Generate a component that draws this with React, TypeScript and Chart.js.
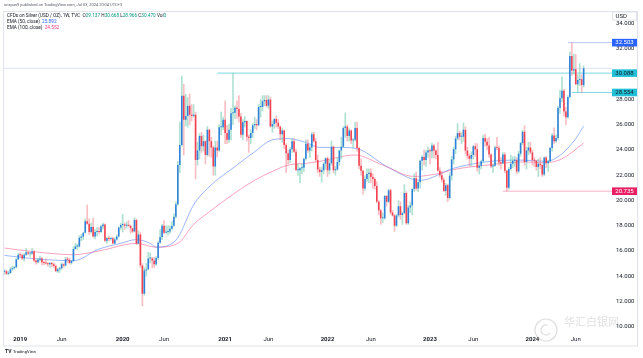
import { useEffect, useRef } from "react";
import { Chart, registerables } from "chart.js";
Chart.register(...registerables);

// Weekly candles, index 0 = week of 12 Nov 2018, last = week of 1 Jul 2024
const opens = [
  14.35,14.40,14.20,14.26,14.56,14.63,14.70,15.35,
  15.69,15.65,15.40,15.70,15.90,15.80,15.80,15.95,15.25,15.10,15.30,15.40,15.10,15.05,15.00,14.95,15.05,14.95,14.80,14.40,14.55,14.60,14.95,14.85,15.35,15.30,15.05,15.20,16.15,16.35,16.35,17.05,17.15,17.45,18.35,18.15,17.50,17.90,17.15,17.50,17.55,17.50,17.95,18.10,16.80,17.00,16.95,17.00,16.60,16.90,17.15,17.85,
  18.05,18.10,18.00,18.05,18.00,17.80,17.55,18.45,16.60,17.30,14.85,12.60,14.45,14.55,15.40,15.40,15.25,14.95,15.45,16.65,17.10,18.00,17.45,17.50,17.55,17.75,18.00,18.70,19.70,22.80,24.40,28.30,26.40,26.70,27.50,26.80,26.70,26.80,23.20,23.95,25.10,24.30,24.70,23.60,25.60,24.70,24.20,22.70,24.20,23.95,25.80,25.80,
  26.40,25.35,24.80,25.60,26.90,26.95,27.35,27.25,26.65,25.20,26.20,26.30,25.05,24.95,25.35,25.95,26.05,25.95,27.40,27.40,27.85,27.95,27.50,28.00,25.85,26.05,26.45,26.15,25.85,25.25,25.55,24.40,23.75,23.20,24.05,24.70,23.85,22.40,22.40,22.55,22.60,23.30,24.50,23.95,24.20,25.25,24.70,23.20,22.45,22.25,22.40,22.90,
  23.35,22.40,22.95,24.25,22.40,22.45,23.05,23.95,24.25,25.75,25.85,25.10,25.55,24.75,24.80,25.75,24.15,22.75,22.35,20.95,21.70,22.10,22.20,21.85,21.70,21.15,19.90,19.20,18.60,18.60,20.35,19.90,20.80,19.05,18.80,18.00,18.80,19.55,18.85,19.00,20.60,18.20,19.45,19.60,20.90,21.75,20.95,21.45,23.15,23.45,23.20,23.80,
  23.95,23.90,24.35,23.95,23.60,22.35,22.00,21.65,20.75,21.20,20.20,21.95,23.25,24.05,24.90,25.35,25.05,25.05,25.60,23.95,23.55,23.30,23.60,24.30,24.05,22.60,22.75,23.10,24.95,24.65,24.35,23.65,22.70,22.75,24.20,24.15,23.00,22.95,23.65,22.35,21.00,22.50,22.90,23.15,23.20,22.30,23.70,24.55,25.45,23.05,23.95,24.20,
  23.80,23.20,23.15,22.65,22.90,22.80,22.05,23.40,22.95,23.10,24.15,25.15,24.70,24.95,27.35,28.10,28.70,27.05,26.60,28.20,31.45,30.30,30.40,29.20,29.55,29.60,29.137,
];
const highs = [
  14.52,14.48,14.38,14.70,14.80,14.80,15.40,15.80,
  15.85,15.75,15.80,16.20,15.95,15.85,16.20,16.05,15.30,15.40,15.60,15.50,15.20,15.35,15.05,15.10,15.10,15.05,14.90,14.65,14.70,15.05,15.00,15.50,15.50,15.40,15.25,16.35,16.60,16.55,17.20,17.30,17.45,18.55,19.65,18.55,18.20,18.60,17.70,17.85,17.85,18.05,18.20,18.15,17.10,17.20,17.10,17.10,17.05,17.25,17.90,18.20,
  18.90,18.20,18.30,18.40,18.05,17.80,18.65,18.55,17.60,17.45,15.00,14.70,15.00,15.90,15.85,15.50,15.50,15.55,16.75,17.70,18.10,18.40,18.00,18.00,18.00,18.35,18.95,19.90,23.10,26.20,29.86,29.20,28.40,28.15,28.45,27.60,27.60,27.00,24.60,25.30,25.40,25.20,24.75,25.85,25.65,25.00,24.30,24.70,24.70,26.00,27.00,26.60,
  27.90,25.95,26.05,27.30,30.088,27.50,27.90,28.30,26.90,26.40,26.65,26.30,25.20,25.60,26.10,26.60,26.40,27.60,28.00,28.30,28.30,28.30,28.30,28.20,26.30,26.50,26.70,26.40,25.90,25.70,25.60,24.50,24.00,24.20,24.90,24.90,24.05,22.90,22.60,22.90,23.35,24.80,24.80,24.40,25.40,25.40,24.90,23.60,22.65,22.60,23.00,23.40,
  23.45,23.20,24.70,24.30,22.70,23.40,24.00,25.00,25.85,26.95,26.00,25.70,25.60,24.90,26.20,26.20,24.20,23.30,22.40,21.95,22.50,22.50,22.50,22.10,21.80,21.50,20.00,19.30,19.00,20.40,20.40,20.90,20.90,19.20,18.90,18.90,20.00,19.90,19.10,21.25,20.70,19.60,19.90,20.95,22.10,22.25,21.50,23.20,23.55,24.00,24.00,24.25,
  24.10,24.55,24.45,24.00,24.60,22.60,22.30,21.80,21.35,21.30,22.20,23.50,24.20,25.10,26.10,25.50,25.35,26.15,25.85,24.20,23.70,23.85,24.35,24.50,24.50,22.90,23.20,25.15,25.25,24.90,25.00,23.70,22.90,24.30,25.00,24.30,23.40,23.80,23.80,22.40,22.60,23.60,23.45,23.50,23.40,23.90,24.60,25.55,25.92,24.20,24.60,24.60,
  24.00,23.40,23.20,23.30,23.40,22.90,23.45,23.50,23.20,24.20,25.30,25.75,25.20,27.45,28.75,29.80,28.80,27.40,28.30,31.75,32.503,31.60,31.55,29.95,30.85,29.95,30.668,
];
const lows = [
  14.15,14.12,14.08,14.20,14.45,14.55,14.65,15.30,
  15.55,15.30,15.20,15.65,15.70,15.55,15.70,15.15,14.95,15.05,15.20,14.90,14.90,14.95,14.80,14.70,14.75,14.70,14.35,14.30,14.30,14.55,14.70,14.80,15.10,14.95,14.95,15.15,16.15,16.15,16.30,16.80,16.90,17.40,18.10,17.30,17.40,17.10,16.95,17.20,17.35,17.45,17.75,16.75,16.60,16.80,16.85,16.60,16.55,16.85,17.10,17.70,
  17.50,17.70,17.80,17.95,17.40,17.45,17.50,16.50,16.55,14.70,11.64,12.50,14.00,14.50,15.05,14.65,14.70,14.85,15.30,16.60,16.90,17.35,17.40,17.25,17.40,17.70,17.95,18.60,19.60,22.20,24.30,23.60,25.90,25.80,26.00,26.30,26.60,21.70,22.80,23.30,23.80,23.90,22.90,23.50,23.50,23.40,22.00,22.00,23.45,23.90,25.20,25.60,
  24.50,24.50,24.60,24.80,26.00,26.50,26.50,26.20,25.00,24.80,25.80,24.70,23.80,24.50,25.00,25.70,25.60,25.90,26.60,27.10,27.50,27.40,27.30,25.80,25.40,25.70,25.80,25.70,24.80,24.60,24.10,22.20,22.90,23.00,23.80,23.80,22.40,22.00,21.40,22.10,22.30,23.20,23.80,23.40,23.90,24.60,23.10,22.20,21.90,21.45,22.10,22.50,
  21.90,22.10,22.80,22.20,22.00,22.40,22.80,23.30,24.20,25.00,24.70,24.70,24.50,24.15,24.70,23.90,22.50,22.00,20.50,20.80,21.50,21.40,21.40,20.95,20.90,19.80,18.85,18.10,18.25,18.50,19.55,19.80,18.90,18.75,17.55,17.90,18.70,18.50,18.10,18.95,18.10,18.10,19.05,18.85,20.70,20.80,20.70,21.00,22.40,22.80,22.70,23.40,
  22.90,23.35,23.40,23.30,22.30,21.85,21.45,20.70,20.40,19.90,20.10,21.60,22.90,23.70,24.80,24.80,24.50,24.70,23.70,23.30,22.70,22.70,23.30,23.50,22.30,22.10,22.50,23.00,24.30,24.00,23.40,22.60,22.20,22.70,24.00,22.80,22.50,22.90,22.20,20.735,20.90,22.40,22.60,22.70,22.10,22.20,23.50,24.40,22.80,22.50,23.60,23.70,
  22.80,22.70,22.40,21.90,22.50,21.90,21.95,22.60,22.30,23.05,23.90,24.50,24.60,24.80,26.90,27.80,26.70,26.00,26.50,28.10,29.90,30.00,29.15,28.60,29.10,28.554,28.966,
];
const closes = [
  14.40,14.20,14.26,14.56,14.63,14.70,15.35,15.69,
  15.65,15.40,15.70,15.90,15.80,15.80,15.95,15.25,15.10,15.30,15.40,15.10,15.05,15.00,14.95,15.05,14.95,14.80,14.40,14.55,14.60,14.95,14.85,15.35,15.30,15.05,15.20,16.15,16.35,16.35,17.05,17.15,17.45,18.35,18.15,17.50,17.90,17.15,17.50,17.55,17.50,17.95,18.10,16.80,17.00,16.95,17.00,16.60,16.90,17.15,17.85,18.05,
  18.10,18.00,18.05,18.00,17.80,17.55,18.45,16.60,17.30,14.85,12.60,14.45,14.55,15.40,15.40,15.25,14.95,15.45,16.65,17.10,18.00,17.45,17.50,17.55,17.75,18.00,18.70,19.70,22.80,24.40,28.30,26.40,26.70,27.50,26.80,26.70,26.80,23.20,23.95,25.10,24.30,24.70,23.60,25.60,24.70,24.20,22.70,24.20,23.95,25.80,25.80,26.40,
  25.35,24.80,25.60,26.90,26.95,27.35,27.25,26.65,25.20,26.20,26.30,25.05,24.95,25.35,25.95,26.05,25.95,27.40,27.40,27.85,27.95,27.50,28.00,25.85,26.05,26.45,26.15,25.85,25.25,25.55,24.40,23.75,23.20,24.05,24.70,23.85,22.40,22.40,22.55,22.60,23.30,24.50,23.95,24.20,25.25,24.70,23.20,22.45,22.25,22.40,22.90,23.35,
  22.40,22.95,24.25,22.40,22.45,23.05,23.95,24.25,25.75,25.85,25.10,25.55,24.75,24.80,25.75,24.15,22.75,22.35,20.95,21.70,22.10,22.20,21.85,21.70,21.15,19.90,19.20,18.60,18.60,20.35,19.90,20.80,19.05,18.80,18.00,18.80,19.55,18.85,19.00,20.60,18.20,19.45,19.60,20.90,21.75,20.95,21.45,23.15,23.45,23.20,23.80,23.95,
  23.90,24.35,23.95,23.60,22.35,22.00,21.65,20.75,21.20,20.20,21.95,23.25,24.05,24.90,25.35,25.05,25.05,25.60,23.95,23.55,23.30,23.60,24.30,24.05,22.60,22.75,23.10,24.95,24.65,24.35,23.65,22.70,22.75,24.20,24.15,23.00,22.95,23.65,22.35,21.00,22.50,22.90,23.15,23.20,22.30,23.70,24.55,25.45,23.05,23.95,24.20,23.80,
  23.20,23.15,22.65,22.90,22.80,22.05,23.40,22.95,23.10,24.15,25.15,24.70,24.95,27.35,28.10,28.70,27.05,26.60,28.20,31.45,30.30,30.40,29.20,29.55,29.60,29.14,30.47,
];

// EMA readings (week index, value)
const ema50Idx = [0,14,28,35,48,59,67,74,77,84,88,96,104,118,127,136,144,153,160,170,179,194,211,228,245,262,275,283,290,294];
const ema50Val = [15.65,15.40,15.25,15.23,16.15,16.6,16.9,16.6,16.3,16.5,17.05,19.65,21.1,22.8,23.86,24.8,24.9,24.6,24.2,24.2,24.1,22.7,21.6,22.55,23.07,23.2,23.1,23.7,24.9,25.89];
const ema100Idx = [0,14,35,48,67,77,88,96,104,117,127,136,144,153,159,178,192,208,221,228,245,262,275,283,294];
const ema100Val = [16.23,15.96,15.70,16.0,16.6,16.3,16.6,18.1,19.1,20.6,21.6,22.3,22.8,22.94,23.07,23.6,22.8,21.9,22.15,22.45,22.8,23.05,23.0,23.3,24.55];

const timeTickIdx = [8, 29, 60, 81, 112, 134, 164, 186, 216, 238, 268, 290];
const timeTickLabels = ["2019","Jun","2020","Jun","2021","Jun","2022","Jun","2023","Jun","2024","Jun"];
const priceTicks = [10,12,14,16,18,20,22,24,26,28,30,32,34];

const levelValues = [32.503, 30.088, 28.554, 20.735];
const levelStarts = [286, 108, 288, 253];
const levelLine = ["#b9c5f7", "#7fd8e4", "#7fd8e4", "#f7b3c6"];
const levelBox = ["#2962ff", "#22c0d6", "#22c0d6", "#e91e63"];
const levelText = ["#ffffff", "#131722", "#131722", "#ffffff"];
const lastPrice = 30.47;

const watermarkText = "华汇白银网";

const X_MIN = -0.5;
const X_MAX = 308.4;
const FONT = "Roboto, 'Liberation Sans', sans-serif";

export default function App() {
  const ref = useRef<HTMLCanvasElement | null>(null);
  useEffect(() => {
    document.body.style.margin = "0";
    const canvas = ref.current!;
    const idx = opens.map((_, i) => i);
    const up = (i: number) => closes[i] >= opens[i];

    const overlay = {
      id: "overlay",
      afterDraw(chart: any) {
        const { ctx } = chart;
        const ys = chart.scales.y;
        ctx.save();
        // frame
        ctx.strokeStyle = "#e0e3eb";
        ctx.lineWidth = 1;
        ctx.strokeRect(3.5, 11.5, 634, 334.5);
        // watermark
        ctx.strokeStyle = "rgba(150,150,150,0.3)";
        ctx.lineWidth = 1.2;
        ctx.beginPath();
        ctx.arc(546, 330, 11, 0, Math.PI * 2);
        ctx.stroke();
        ctx.beginPath();
        ctx.arc(546, 330, 5, Math.PI * 0.2, Math.PI * 1.6);
        ctx.stroke();
        ctx.fillStyle = "rgba(150,150,150,0.3)";
        ctx.font = `11px 'Noto Sans CJK SC', sans-serif`;
        ctx.textAlign = "left";
        ctx.textBaseline = "middle";
        ctx.fillText(watermarkText, 564, 322);
        // level labels
        ctx.font = `6px ${FONT}`;
        ctx.textBaseline = "middle";
        ctx.textAlign = "center";
        levelValues.forEach((v, k) => {
          const py = ys.getPixelForValue(v);
          ctx.fillStyle = levelBox[k];
          ctx.fillRect(612, py - 3.8, 25, 7.6);
          ctx.fillStyle = levelText[k];
          ctx.fillText(v.toFixed(3), 624.5, py + 0.3);
        });
        // USD box
        ctx.fillStyle = "#ffffff";
        ctx.fillRect(612.5, 12, 24, 8);
        ctx.strokeStyle = "#e0e3eb";
        ctx.lineWidth = 1;
        ctx.strokeRect(612.5, 12, 24, 8);
        ctx.fillStyle = "#131722";
        ctx.textAlign = "left";
        ctx.fillText("USD", 615.5, 16.2);
        // header
        ctx.fillStyle = "#555a66";
        ctx.font = `4px ${FONT}`;
        ctx.textBaseline = "middle";
        ctx.fillText("crispus9 published on TradingView.com, Jul 03, 2024 20:04 UTC+3", 4, 4.5);
        // legend
        const seg = (parts: [string, string][], x: number, y: number) => {
          let cx = x;
          parts.forEach(([t, c]) => {
            ctx.fillStyle = c;
            ctx.fillText(t, cx, y);
            cx += ctx.measureText(t).width;
          });
        };
        ctx.font = `4.7px ${FONT}`;
        const dark = "#131722";
        const green = "#089981";
        seg([
          ["CFDs on Silver (USD / OZ), 1W, TVC  ", dark],
          ["O", dark], ["29.137 ", green],
          ["H", dark], ["30.668 ", green],
          ["L", dark], ["28.966 ", green],
          ["C", dark], ["30.470 ", green],
          ["Vol", dark], ["0", green],
        ], 7, 15.8);
        seg([["EMA (50, close)  ", dark], ["25.892", "#2962ff"]], 7, 21.8);
        seg([["EMA (100, close)  ", dark], ["24.552", "#f23673"]], 7, 27.8);
        // TradingView logo
        ctx.fillStyle = "#131722";
        ctx.font = `bold 5px ${FONT}`;
        ctx.fillText("TV", 5, 352);
        ctx.font = `4.2px ${FONT}`;
        ctx.fillText("TradingView", 13, 352);
        ctx.restore();
      },
    };

    const chart = new Chart(canvas, {
      type: "bar",
      data: {
        datasets: [
          {
            type: "line",
            data: [{ x: X_MIN, y: lastPrice }, { x: X_MAX, y: lastPrice }],
            borderColor: "#dde2f4",
            borderWidth: 1,
            pointRadius: 0,
            order: 9,
          },
          ...levelValues.map((v, k) => ({
            type: "line" as const,
            data: [{ x: levelStarts[k], y: v }, { x: X_MAX, y: v }],
            borderColor: levelLine[k],
            borderWidth: 1,
            pointRadius: 0,
            order: 8,
          })),
          {
            type: "line",
            data: ema100Idx.map((x, k) => ({ x, y: ema100Val[k] })),
            borderColor: "rgba(242,54,115,0.45)",
            borderWidth: 1,
            pointRadius: 0,
            cubicInterpolationMode: "monotone",
            order: 3,
          },
          {
            type: "line",
            data: ema50Idx.map((x, k) => ({ x, y: ema50Val[k] })),
            borderColor: "rgba(41,98,255,0.45)",
            borderWidth: 1,
            pointRadius: 0,
            cubicInterpolationMode: "monotone",
            order: 3,
          },
          {
            type: "bar",
            data: idx.map((i) => ({ x: i, y: [lows[i], highs[i]] })),
            backgroundColor: idx.map((i) => (up(i) ? "rgba(110,200,175,0.55)" : "rgba(242,110,125,0.45)")),
            grouped: false,
            barThickness: 1,
            order: 2,
          } as any,
          {
            type: "bar",
            data: idx.map((i) => ({ x: i, y: [opens[i], closes[i]] })),
            backgroundColor: idx.map((i) => (up(i) ? "#2f7fdc" : "#f2414f")),
            grouped: false,
            categoryPercentage: 1,
            barPercentage: 0.78,
            minBarLength: 1,
            order: 1,
          } as any,
        ],
      },
      options: {
        animation: false,
        responsive: false,
        maintainAspectRatio: false,
        events: [],
        layout: { padding: { left: 3.5, right: 5, top: 11.5, bottom: 12 } },
        plugins: { legend: { display: false }, tooltip: { enabled: false } },
        scales: {
          x: {
            type: "linear",
            min: X_MIN,
            max: X_MAX,
            offset: false,
            grid: { display: false, drawTicks: false },
            border: { display: false },
            afterBuildTicks: (s: any) => {
              s.ticks = timeTickIdx.map((v) => ({ value: v }));
            },
            afterFit: (s: any) => {
              s.height = 13;
            },
            ticks: {
              autoSkip: false,
              maxRotation: 0,
              padding: 3,
              color: "#131722",
              font: (c: any) => ({ size: 6, family: FONT, weight: c.index % 2 === 0 ? "bold" : "normal" }),
              callback: (_v: any, i: number) => timeTickLabels[i],
            },
          },
          y: {
            type: "linear",
            position: "right",
            min: 9.5,
            max: 34.97,
            grid: { display: false, drawTicks: false },
            border: { display: false },
            afterBuildTicks: (s: any) => {
              s.ticks = priceTicks.map((v) => ({ value: v }));
            },
            afterFit: (s: any) => {
              s.width = 26;
            },
            ticks: {
              padding: 4,
              crossAlign: "center",
              color: "#131722",
              font: { size: 6, family: FONT },
              callback: (v: any) => Number(v).toFixed(3),
            },
          },
        },
      } as any,
      plugins: [overlay],
    });
    return () => chart.destroy();
  }, []);

  return (
    <div style={{ position: "absolute", left: 0, top: 0, width: 643, height: 358, background: "#fff" }}>
      <canvas ref={ref} width={643} height={358} style={{ width: 643, height: 358, display: "block" }} />
    </div>
  );
}
